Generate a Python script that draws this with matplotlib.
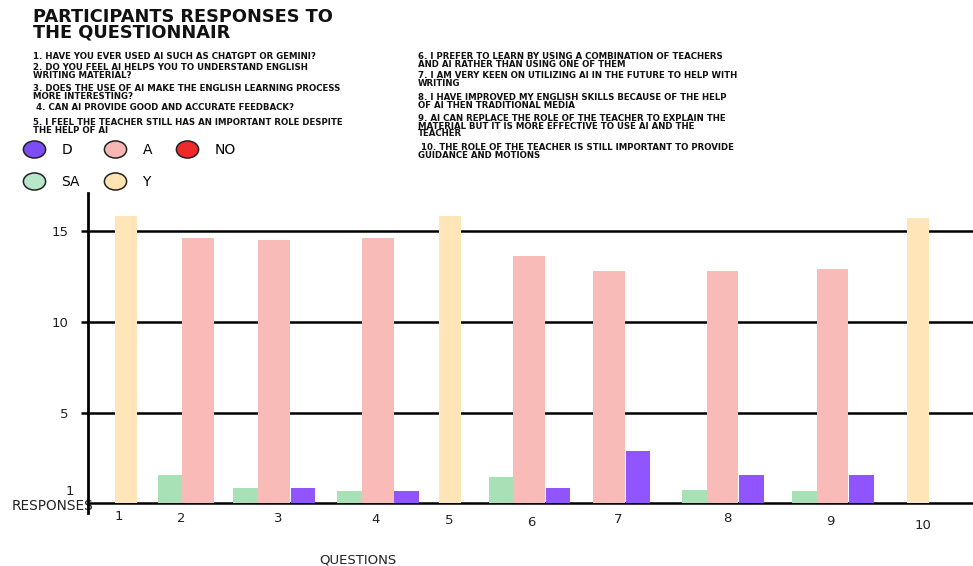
import matplotlib.pyplot as plt
from matplotlib.lines import Line2D
from matplotlib.path import Path

# Dati
questions = ['1', '2', '3', '4', '5', '6', '7', '8', '9', '10']
y_vals = [15.8, 0, 0, 0, 15.8, 0, 0, 0, 0, 15.7]
a_vals = [0, 14.6, 14.5, 14.6, 0, 13.6, 12.8, 12.8, 12.9, 0]
sa_vals = [0, 1.55, 0.85, 0.7, 0, 1.45, 0, 0.75, 0.7, 0]
d_vals = [0, 0, 0.85, 0.7, 0, 0.85, 2.9, 1.55, 1.55, 0]

legend_labels = ['D', 'SA', 'A', 'Y', 'NO']

left_items = [
    "1. HAVE YOU EVER USED AI SUCH AS CHATGPT OR GEMINI?",
    "2. DO YOU FEEL AI HELPS YOU TO UNDERSTAND ENGLISH\nWRITING MATERIAL?",
    "3. DOES THE USE OF AI MAKE THE ENGLISH LEARNING PROCESS\nMORE INTERESTING?",
    " 4. CAN AI PROVIDE GOOD AND ACCURATE FEEDBACK?",
    "5. I FEEL THE TEACHER STILL HAS AN IMPORTANT ROLE DESPITE\nTHE HELP OF AI",
]
right_items = [
    "6. I PREFER TO LEARN BY USING A COMBINATION OF TEACHERS\nAND AI RATHER THAN USING ONE OF THEM",
    "7. I AM VERY KEEN ON UTILIZING AI IN THE FUTURE TO HELP WITH\nWRITING",
    "8. I HAVE IMPROVED MY ENGLISH SKILLS BECAUSE OF THE HELP\nOF AI THEN TRADITIONAL MEDIA",
    "9. AI CAN REPLACE THE ROLE OF THE TEACHER TO EXPLAIN THE\nMATERIAL BUT IT IS MORE EFFECTIVE TO USE AI AND THE\nTEACHER",
    " 10. THE ROLE OF THE TEACHER IS STILL IMPORTANT TO PROVIDE\nGUIDANCE AND MOTIONS",
]

# Colori
C_Y = '#FFE5B8'
C_A = '#F9BBB7'
C_SA = '#A9E1B6'
C_D = '#9155FF'
C_NO = '#EE2B2B'

# Posizioni (layout a mano come nell'originale)
main_pos = [1.0, 1.82, 2.68, 3.86, 4.68, 5.58, 6.49, 7.78, 9.03, 10.0]
tick_pos = [0.92, 1.63, 2.73, 3.84, 4.67, 5.61, 6.59, 7.83, 9.0, 10.06]
tick_shift_px = [-4, -2, -2, -1, 0, 2, -1, -2, 1, 5]
w_main = 0.36
w_y = 0.25
w_side = 0.28

W, H = 973, 566
fig = plt.figure(figsize=(W / 100, H / 100), dpi=100)
ax = fig.add_axes([88 / W, 53 / H, 885 / W, 320 / H])

sa_pos = [p - (w_main + w_side) / 2 for p in main_pos]
d_pos = [p + (w_main + w_side) / 2 + 0.01 for p in main_pos]

ax.bar(main_pos, y_vals, width=w_y, color=C_Y, zorder=3)
ax.bar(main_pos, a_vals, width=w_main, color=C_A, zorder=3)
ax.bar(sa_pos, sa_vals, width=w_side, color=C_SA, zorder=3)
ax.bar(d_pos, d_vals, width=w_side, color=C_D, zorder=3)

ax.set_xlim(0.568, 10.625)
ax.set_ylim(-0.53, 17.08)
ax.set_yticks([5, 10, 15])
ax.set_yticklabels(['5', '10', '15'])
ax.grid(axis='y', color='black', linewidth=1.8, zorder=1)
ax.axhline(0, color='black', linewidth=1.8, zorder=2)
ax.tick_params(axis='y', length=5, width=1.8, pad=9, labelsize=9.5,
               labelcolor='#222222')
ax.set_xticks(tick_pos)
ax.set_xticklabels(questions)
ax.tick_params(axis='x', length=0, pad=1, labelsize=9.5, labelcolor='#222222')
# le etichette dell'originale non sono allineate
for lab, dy in zip(ax.get_xticklabels(), tick_shift_px):
    lab.set_y(-dy / 320)

for s in ['top', 'right', 'bottom']:
    ax.spines[s].set_visible(False)
ax.spines['left'].set_linewidth(2)

ax.text(-0.016, 0.65, '1', transform=ax.get_yaxis_transform(), ha='right',
        va='center', fontsize=9.5, color='#222222')

ax.set_ylabel('RESPONSES', rotation=0, fontsize=9.8, color='#222222',
              ha='right', va='center')
ax.yaxis.set_label_coords(0.006, 0.022)
ax.set_xlabel('QUESTIONS', fontsize=9.5, color='#222222', va='center')
ax.xaxis.set_label_coords(0.305, -0.147)

# Titolo
fig.text(33 / W, 1 - 8 / H, 'PARTICIPANTS RESPONSES TO\nTHE QUESTIONNAIR',
         fontsize=12.8, fontweight='bold', va='top', ha='left',
         linespacing=0.85, color='#111111')

# Elenco domande
left_y = [52, 63, 84, 103, 118]
right_y = [52, 71, 93, 114, 143]
for txt, yy in zip(left_items, left_y):
    fig.text(33 / W, 1 - yy / H, txt, fontsize=6.2, fontweight='bold',
             va='top', ha='left', linespacing=0.8, color='#111111')
for txt, yy in zip(right_items, right_y):
    fig.text(418 / W, 1 - yy / H, txt, fontsize=6.2, fontweight='bold',
             va='top', ha='left', linespacing=0.8, color='#111111')

# Legenda con marcatori ellittici
circ = Path.unit_circle()
ellipse = Path(circ.vertices * [1.3, 1.0], circ.codes)
leg_colors = ['#7C4DF2', '#B8E6C8', '#F8B7B3', '#FFE3B0', C_NO]
handles = [Line2D([], [], marker=ellipse, linestyle='', markersize=16,
                  markerfacecolor=c, markeredgecolor='#222222',
                  markeredgewidth=1.1) for c in leg_colors]
fig.legend(handles, legend_labels, ncol=3, loc='upper left',
           bbox_to_anchor=(24 / W, 1 - 143 / H), frameon=False,
           fontsize=10, handletextpad=1.2, columnspacing=1.8,
           labelspacing=1.3, handlelength=1.5, borderaxespad=0,
           borderpad=0)

fig.savefig('out.png', dpi=100)
